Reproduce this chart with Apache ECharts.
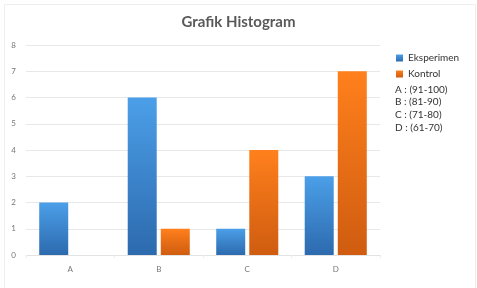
<!DOCTYPE html>
<html><head><meta charset="utf-8">
<script src="https://cdn.jsdelivr.net/npm/echarts@6/dist/echarts.min.js"></script>
<style>html,body{margin:0;padding:0;background:#fff}#c{width:477px;height:288px}</style>
</head><body><div id="c"></div>
<script>
const categories = ['A', 'B', 'C', 'D'];
const eksperimen = [2, 6, 1, 3];
const kontrol = [0, 1, 4, 7];
const seriesNames = ['Eksperimen', 'Kontrol'];
const rangeNotes = ['A : (91-100)', 'B : (81-90)', 'C : (71-80)', 'D : (61-70)'];
const yTicks = [0, 8, 1];

const chart = echarts.init(document.getElementById('c'));
const FONT = 'Lato, "Open Sans", sans-serif';
function grad(top, bottom) {
  return new echarts.graphic.LinearGradient(0, 0, 0, 1, [{offset: 0, color: top}, {offset: 1, color: bottom}]);
}
chart.setOption({
  animation: false,
  backgroundColor: '#fff',
  title: {
    text: 'Grafik Histogram', left: 'center', top: 10,
    textStyle: {fontFamily: FONT, fontSize: 15, fontWeight: 'bold', color: '#595959'}
  },
  legend: {
    orient: 'vertical', left: 391, top: 48, itemWidth: 7, itemHeight: 7, itemGap: 6,
    icon: 'rect',
    textStyle: {fontFamily: FONT, fontSize: 10, color: '#333', padding: [-5, 0, 0, 0]},
    data: seriesNames
  },
  graphic: [
    {type: 'rect', left: 2, top: 2, shape: {width: 471, height: 284}, style: {fill: 'none', stroke: '#eeeeee', lineWidth: 1}, silent: true, z: -1},
    {type: 'text', left: 395, top: 83, style: {text: rangeNotes.join('\n'), fontFamily: FONT, fontSize: 10, lineHeight: 12.7, fill: '#333'}}
  ],
  grid: {left: 26, right: 97, top: 45, bottom: 33},
  xAxis: {
    type: 'category', data: categories,
    axisLine: {lineStyle: {color: '#e3e3e3'}},
    axisTick: {show: true, lineStyle: {color: '#ececec'}, length: 3},
    axisLabel: {color: '#777', fontSize: 8, fontFamily: FONT, margin: 10}
  },
  yAxis: {
    type: 'value', min: yTicks[0], max: yTicks[1], interval: yTicks[2],
    axisLine: {show: false}, axisTick: {show: false},
    splitLine: {lineStyle: {color: '#e8e8e8'}},
    axisLabel: {color: '#777', fontSize: 8, fontFamily: FONT, margin: 10}
  },
  series: [
    {name: seriesNames[0], type: 'bar', data: eksperimen, barWidth: 29, barGap: '14%',
     itemStyle: {color: grad('#4b9fe8', '#2d6aae')}},
    {name: seriesNames[1], type: 'bar', data: kontrol, barWidth: 29,
     itemStyle: {color: grad('#ff801c', '#cf5c10')}}
  ]
});
</script></body></html>
